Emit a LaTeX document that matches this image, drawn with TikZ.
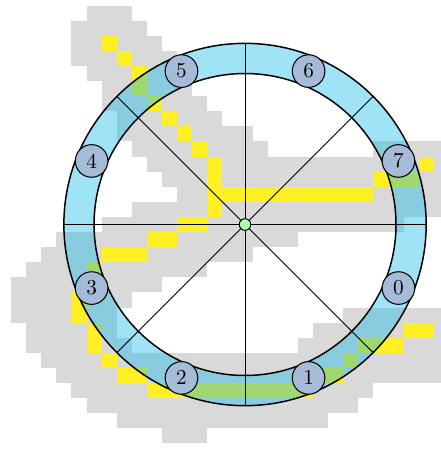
\documentclass[tikz,border=0pt]{standalone}
\usetikzlibrary{positioning}
\definecolor{cellgray}{RGB}{217,217,217}
\definecolor{cellyellow}{RGB}{255,240,35}
\definecolor{ringblue}{RGB}{17,182,232}
\definecolor{slotblue}{RGB}{165,187,216}
\definecolor{hubgreen}{RGB}{175,250,175}
\begin{document}
\begin{tikzpicture}[
    x=0.25cm, y=0.25cm,
    near/.style={fill=cellgray},
    hit/.style={fill=cellyellow},
    band/.style={fill=ringblue, fill opacity=0.4, even odd rule},
    rim/.style={draw=black, line width=0.7pt},
    spoke/.style={draw=black, line width=0.45pt},
    slot/.style={circle, draw=black, fill=slotblue, line width=0.5pt,
      minimum size=5.4mm, inner sep=0pt},
    hub/.style={circle, draw=black, fill=hubgreen, line width=0.4pt,
      minimum size=1.9mm, inner sep=0pt}
  ]
  \useasboundingbox (-16.23,-14.87) rectangle (12.98,14.87);
  \foreach \j/\a/\b in {14/-10/-8, 13/-11/-7, 12/-11/-6, 11/-11/-5, 10/-10/-4,
      9/-9/-4, 8/-9/-3, 7/-8/-2, 6/-8/0, 5/-7/1, 5/9/13, 4/-6/13, 3/-5/13,
      2/-4/13, 1/-7/13, 0/-9/10, -1/-12/3, -2/-13/0, -3/-14/-3, -4/-15/-6,
      -5/-15/-8, -6/-15/-9, -6/7/13, -7/-14/-9, -7/5/13, -8/-14/-8, -8/4/13,
      -9/-13/13, -10/-12/13, -11/-11/8, -12/-10/7, -13/-8/5, -14/-5/-3}
    \fill[near] (\a-0.5,\j-0.5) rectangle (\b+0.5,\j+0.5);
  \foreach \i/\j in {-9/12, -8/11, -7/10, -7/9, -6/8, -5/7, -4/6, -3/5,
      -2/4, -2/3, -2/2, -2/1, -1/2, 0/2, 1/2, 2/2, 3/2, 4/2, 5/2, 6/2, 7/2, 8/2,
      9/3, 10/3, 11/3, 12/4, -3/0, -4/0, -5/-1, -6/-1, -7/-2, -8/-2, -9/-2,
      -10/-3, -10/-4, -11/-5, -11/-6, -10/-7, -10/-8, -9/-9, -8/-10, -7/-10,
      -6/-11, -5/-11, -4/-11, -3/-11, -2/-11, -1/-11, 0/-11, 1/-11, 2/-11,
      3/-11, 4/-11, 5/-10, 6/-10, 7/-9, 8/-8, 9/-8, 10/-8, 11/-7, 12/-7}
    \fill[hit] (\i-0.5,\j-0.5) rectangle (\i+0.5,\j+0.5);
  \fill[band] (0,0) circle (12) (0,0) circle (10);
  \draw[rim] (0,0) circle (12) (0,0) circle (10);
  \node[hub] (hub) at (0,0) {};
  \foreach \k in {0,...,7}
    \coordinate (end\k) at (45*\k:12);
  \foreach \k in {0,...,7}
    \draw[spoke] (hub) -- (end\k);
  \node[hub] at (hub) {};
  \foreach \k in {0,...,7}
    \node[slot] (s\k) at ({-22.5-45*\k}:11) {\k};
\end{tikzpicture}
\end{document}
